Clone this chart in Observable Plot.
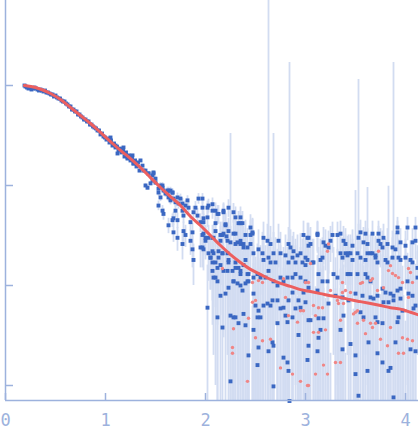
<!DOCTYPE html>
<html><head><meta charset="utf-8">
<script src="https://cdn.jsdelivr.net/npm/d3@7"></script>
<script src="https://cdn.jsdelivr.net/npm/@observablehq/plot@0.6"></script>
<style>body{margin:0;background:#fff}</style>
</head><body><div id="chart"></div>
<script>
const xTicks = [0, 1, 2, 3, 4];
const yTicks = [1, 0.1, 0.01, 0.001];

// fitted model curve [q, I]
const fitCurve = [[0.19,1.00],[0.30,0.955],[0.45,0.832],[0.55,0.724],[0.65,0.603],[0.75,0.501],[0.85,0.417],[0.95,0.339],[1.05,0.275],[1.15,0.224],[1.25,0.186],[1.35,0.151],[1.45,0.120],[1.55,0.0955],[1.65,0.0776],[1.75,0.0631],[1.85,0.0490],[1.95,0.0398],[2.05,0.0316],[2.15,0.0251],[2.25,0.0204],[2.35,0.0170],[2.45,0.0145],[2.55,0.0129],[2.65,0.0115],[2.75,0.0105],[2.85,0.0098],[2.95,0.0091],[3.05,0.0087],[3.15,0.0083],[3.25,0.0079],[3.35,0.0076],[3.45,0.0072],[3.55,0.0069],[3.65,0.0066],[3.75,0.0063],[3.85,0.0060],[3.95,0.0058],[4.05,0.0054],[4.15,0.0050]];

// experimental points [q, I]
const lowQ = [[0.19,1.00],[0.20,0.977],[0.215,0.955],[0.23,0.933],[0.245,0.955],[0.26,0.912],[0.275,0.933],[0.29,0.955],[0.305,0.933],[0.32,0.912],[0.335,0.891],[0.35,0.912],[0.365,0.891],[0.38,0.871],[0.395,0.891],[0.41,0.851],[0.425,0.851],[0.44,0.832],[0.455,0.813],[0.47,0.813],[0.485,0.776],[0.50,0.794],[0.515,0.759],[0.53,0.741],[0.545,0.741],[0.56,0.708],[0.575,0.692],[0.59,0.692],[0.605,0.661],[0.62,0.646],[0.635,0.617],[0.65,0.617],[0.665,0.575],[0.68,0.575],[0.695,0.550],[0.71,0.550],[0.725,0.513],[0.74,0.513],[0.755,0.490],[0.77,0.479],[0.785,0.457],[0.80,0.457],[0.815,0.437],[0.83,0.437],[0.845,0.407],[0.86,0.407],[0.875,0.389],[0.89,0.380],[0.905,0.372],[0.92,0.355],[0.935,0.355],[0.95,0.324],[0.965,0.331],[0.98,0.309],[0.995,0.302],[1.01,0.288],[1.025,0.295],[1.04,0.269],[1.055,0.282],[1.07,0.251],[1.085,0.263],[1.10,0.240],[1.115,0.245],[1.13,0.224],[1.145,0.234],[1.16,0.214],[1.175,0.224],[1.19,0.195],[1.205,0.214],[1.22,0.186],[1.235,0.200],[1.25,0.178],[1.265,0.191],[1.28,0.166],[1.295,0.178],[1.31,0.155],[1.325,0.170],[1.34,0.141]];

const midQ = [[1.05,0.302],[1.10,0.251],[1.12,0.209],[1.18,0.240],[1.22,0.191],[1.27,0.200],[1.28,0.166],[1.35,0.178],[1.38,0.141],[1.43,0.132],[1.47,0.112],[1.48,0.132],[1.50,0.107],[1.53,0.093],[1.55,0.076],[1.57,0.100],[1.62,0.083],[1.63,0.089],[1.65,0.071],[1.67,0.085],
[1.37,0.158],[1.40,0.141],[1.43,0.132],[1.47,0.126],[1.48,0.135],[1.50,0.117],[1.40,0.100],[1.42,0.095],[1.45,0.105],[1.53,0.085],[1.55,0.100],[1.57,0.095],[1.58,0.089],[1.60,0.083],[1.62,0.089],[1.65,0.089],[1.67,0.085],[1.63,0.076],[1.68,0.074],[1.70,0.068],[1.72,0.076],[1.75,0.074],[1.73,0.066],[1.77,0.066],[1.80,0.063],[1.82,0.071],[1.83,0.060],[1.53,0.063],[1.57,0.056],[1.58,0.052],[1.63,0.040],[1.67,0.045],[1.68,0.047],[1.70,0.056],[1.72,0.045],[1.77,0.056],[1.78,0.050],[1.68,0.034],[1.72,0.030],[1.77,0.026],[1.78,0.035],[1.80,0.032],[1.85,0.043],[1.87,0.034],[1.85,0.028],[1.87,0.023],[1.88,0.018],[1.88,0.054],[1.90,0.060],[1.92,0.050],[1.93,0.074],[1.97,0.060],[1.95,0.043],[1.98,0.047],[1.98,0.033],[1.97,0.024],[2.00,0.028],[2.02,0.048],[2.03,0.063],[2.07,0.056],[2.07,0.022],[2.10,0.035],[2.12,0.052],[2.15,0.028],[2.17,0.032],[2.18,0.054],[2.20,0.040],[2.17,0.021],[2.22,0.028],[2.23,0.035],[2.30,0.048],[2.35,0.048],[2.33,0.042],[2.30,0.033],[2.35,0.028],[2.40,0.032],[2.38,0.024],[2.05,0.019],[2.07,0.017],[2.12,0.015],[2.10,0.012],[2.15,0.016],[2.23,0.017],[2.30,0.015],[2.35,0.013],[2.28,0.011],[2.40,0.018],[2.43,0.013],
[1.97,0.074],[2.02,0.060],[2.07,0.065],[2.10,0.056],[2.13,0.052],[2.18,0.056],[2.23,0.060],[2.28,0.054],[2.37,0.042],[2.45,0.038],[2.47,0.033]];

const highQ = [[1.98,0.043],[2.10,0.042],[2.20,0.041],[2.35,0.042],[2.47,0.034],[2.45,0.032],[1.97,0.032],[2.00,0.030],[2.03,0.030],[2.07,0.030],[2.08,0.030],[2.15,0.032],[2.18,0.033],[2.21,0.031],[2.28,0.033],[2.32,0.027],[2.58,0.030],[2.62,0.028],[2.65,0.026],[2.73,0.028],[2.83,0.026],[2.85,0.024],[2.88,0.022],[2.98,0.032],[3.02,0.030],[3.03,0.025],[1.95,0.024],[1.98,0.023],[2.03,0.021],[2.08,0.021],[2.13,0.022],[2.17,0.021],[2.22,0.021],[2.25,0.027],[2.30,0.026],[2.35,0.026],[2.38,0.026],[2.42,0.024],[2.45,0.026],[2.48,0.021],[2.53,0.023],[2.57,0.021],[2.58,0.018],[2.63,0.019],[2.65,0.017],[2.68,0.021],[2.70,0.017],[2.75,0.021],[2.80,0.020],[2.83,0.017],[2.87,0.019],[2.90,0.017],[2.92,0.020],[2.95,0.021],[2.97,0.017],[3.00,0.019],[2.05,0.019],[2.07,0.014],[2.10,0.017],[2.13,0.019],[2.08,0.012],[2.12,0.011],[2.18,0.014],[2.22,0.014],[2.23,0.018],[2.27,0.014],[2.30,0.017],[2.33,0.015],[2.35,0.014],[2.38,0.016],[2.42,0.013],[2.43,0.011],[2.48,0.012],[2.52,0.013],[2.55,0.012],[2.60,0.012],[2.63,0.014],[2.68,0.011],[2.72,0.010],[2.75,0.012],[2.78,0.011],[2.82,0.012],[2.87,0.012],[2.90,0.013],[2.95,0.012],[3.00,0.011],[3.03,0.0095],[2.15,0.0079],[2.20,0.0083],[2.23,0.0095],[2.28,0.011],[2.32,0.0105],[2.35,0.010],[2.37,0.0089],[2.40,0.0105],[2.42,0.011],[2.48,0.0083],[2.50,0.0063],[2.53,0.0056],[2.58,0.0063],[2.62,0.0066],[2.65,0.0063],[2.67,0.0071],[2.72,0.0071],[2.75,0.0059],[2.78,0.0060],[2.80,0.0050],[2.83,0.0071],[2.87,0.0085],[2.90,0.0059],[2.93,0.0071],[2.95,0.0060],[2.98,0.0085],[3.03,0.0045],[2.02,0.0060],[2.12,0.0048],[2.17,0.0038],[2.25,0.0050],[2.28,0.0048],[2.30,0.0048],[2.33,0.0042],[2.38,0.0052],[2.40,0.0040],[2.48,0.0036],[2.52,0.0048],[2.55,0.0048],[2.72,0.0042],[2.82,0.0043],[2.87,0.0048],[2.93,0.0032],[2.43,0.0020],[2.53,0.0024],[2.67,0.0027],[2.68,0.0025],[2.78,0.0019],[2.82,0.0017],[2.83,0.0014],[3.02,0.0018],[3.03,0.0025],[2.52,0.0016],
[4.02,0.038],[3.92,0.034],[3.32,0.032],[3.27,0.032],[3.12,0.032],[3.18,0.027],[3.25,0.028],[3.20,0.025],[3.23,0.024],[3.38,0.028],[3.40,0.026],[3.47,0.025],[3.53,0.030],[3.60,0.033],[3.67,0.033],[3.73,0.028],[3.78,0.030],[3.58,0.027],[3.62,0.026],[3.65,0.021],[3.67,0.021],[3.70,0.020],[3.75,0.026],[3.77,0.024],[3.82,0.026],[3.87,0.024],[3.90,0.023],[3.95,0.027],[4.00,0.025],[4.07,0.027],[4.10,0.028],[3.03,0.030],[3.05,0.026],[3.02,0.018],[3.07,0.017],[3.08,0.017],[3.15,0.018],[3.17,0.019],[3.35,0.021],[3.37,0.019],[3.40,0.021],[3.42,0.020],[3.43,0.021],[3.45,0.021],[3.47,0.018],[3.52,0.021],[3.55,0.019],[3.60,0.018],[3.62,0.021],[3.70,0.019],[3.72,0.017],[3.80,0.018],[3.82,0.017],[3.87,0.019],[3.93,0.019],[3.95,0.018],[4.00,0.019],[4.05,0.018],[4.07,0.017],[4.12,0.015],[3.00,0.016],[3.13,0.013],[3.17,0.011],[3.22,0.011],[3.28,0.013],[3.32,0.012],[3.42,0.013],[3.43,0.013],[3.45,0.013],[3.52,0.013],[3.60,0.013],[3.62,0.012],[3.65,0.011],[3.77,0.0093],[3.80,0.0085],[3.85,0.0083],[3.88,0.0079],[3.92,0.0089],[3.95,0.0093],[4.02,0.011],[4.07,0.0079],[4.12,0.012],[3.00,0.0068],[3.12,0.0089],[3.23,0.0066],[3.30,0.0079],[3.37,0.0076],[3.43,0.0071],[3.50,0.0083],[3.57,0.0079],[3.65,0.0076],[3.68,0.0074],[3.72,0.0079],[3.78,0.0068],[3.83,0.0068],[3.88,0.0071],[3.95,0.0074],[4.03,0.0083],[4.08,0.0059],[4.10,0.0063],[3.05,0.0045],[3.13,0.0047],[3.18,0.0047],[3.15,0.0036],[3.35,0.0036],[3.38,0.0050],[3.55,0.0054],[3.58,0.0048],[3.70,0.0048],[3.72,0.0043],[3.77,0.0042],[3.92,0.0043],[3.93,0.0048],[3.97,0.0056],[3.13,0.0030],[3.12,0.0022],[3.37,0.0023],[3.45,0.0026],[3.63,0.0027],[3.72,0.0021],[3.77,0.0017],[3.85,0.0015],[3.90,0.0027],[4.05,0.0023],[4.10,0.0022],[3.50,0.0013],
[3.12,0.033],[3.35,0.033],[3.55,0.034],[3.73,0.033],[3.92,0.038],[4.10,0.038]];

// points whose error bars are very long [q, I, err]
const spikes = [[2.25,0.0011,0.33],[2.63,0.0022,8],[2.68,0.00098,0.33],[2.84,0.0007,1.7],[3.50,0.0020,0.087],[3.53,0.00079,1.15],[3.62,0.0014,0.094],[3.83,0.0014,0.097],[3.88,0.00076,1.7]];

// negative intensities, shown as |I| [q, |I|]
const negQ = [[2.17,0.0148],[2.47,0.0107],[2.53,0.0112],[2.57,0.0107],[2.50,0.0071],[2.47,0.0068],[2.43,0.0047],[2.28,0.0037],[2.27,0.0024],[2.27,0.0021],[2.50,0.0030],[2.57,0.0028],[2.65,0.0029],[2.75,0.0015],[2.87,0.0013],[2.95,0.0011],[3.03,0.0010],[2.42,0.0011],[2.83,0.0050],[2.92,0.0043],[2.95,0.0056],[2.98,0.0056],[3.00,0.0107],[2.80,0.0076],[2.78,0.0117],
[3.05,0.0166],[3.23,0.026],[3.22,0.022],[3.03,0.0107],[3.08,0.0063],[3.13,0.0060],[3.17,0.0060],[3.10,0.0050],[3.08,0.0034],[3.13,0.0034],[3.20,0.0036],[3.25,0.0089],[3.32,0.0071],[3.33,0.0066],[3.38,0.0066],[3.37,0.0085],[3.40,0.0089],[3.45,0.0085],[3.37,0.0107],[3.35,0.0045],[3.48,0.0052],[3.50,0.0054],[3.52,0.0056],[3.52,0.0042],[3.55,0.0105],[3.57,0.0107],[3.65,0.0112],[3.67,0.0117],[3.60,0.0033],[3.58,0.0045],[3.67,0.0038],[3.70,0.0042],[3.72,0.0089],[3.73,0.022],[3.78,0.0095],[3.83,0.0141],[3.85,0.0158],[3.87,0.0132],[3.90,0.0126],[3.93,0.0120],[3.97,0.0107],[4.00,0.0056],[4.03,0.0148],[4.05,0.0135],[4.07,0.0107],[4.03,0.0076],[3.97,0.0030],[4.02,0.0029],[4.07,0.0028],[3.98,0.0021],[3.93,0.0021],[3.85,0.0038],[3.82,0.0025],[3.75,0.0029],[3.65,0.0042],[3.18,0.0016],[3.22,0.0013],[3.10,0.0013],[3.02,0.0010],[3.30,0.0017],[3.35,0.0017]];

// measurement uncertainty level by q range
const errQ   = [0,     0.5,   1.0,   1.3,   1.5,   1.7,   1.9,   2.0,   2.1,   2.2,   2.3,   2.5,   2.8,   3.1,   3.5,   3.9];
const errVal = [0.006, 0.005, 0.004, 0.005, 0.007, 0.008, 0.009, 0.010, 0.011, 0.012, 0.013, 0.013, 0.012, 0.011, 0.011, 0.010];

const yMin = 7.08e-4, yMax = 7.08;
const axisColor = "#9db2dd", barColor = "#d2dcf1", blueColor = "#3a67c2", redColor = "#f08585", fitColor = "#ec5f5f";

function sigma(q) { let s = errVal[0]; for (let i = 0; i < errQ.length; i++) if (q >= errQ[i]) s = errVal[i]; return s; }
const clampY = v => Math.min(Math.max(v, yMin), yMax);
const blue = [...lowQ, ...midQ, ...highQ].map(([q, I]) => ({q, I, err: sigma(q)}))
  .concat(spikes.map(([q, I, err]) => ({q, I, err})));
const red = negQ.map(([q, v]) => ({q, I: v, err: sigma(q)}));
const fit = fitCurve.map(([q, I]) => ({q, I}));

const chart = Plot.plot({
  width: 418, height: 438,
  marginLeft: 5, marginRight: 0, marginTop: 0, marginBottom: 38,
  style: {fontFamily: "DejaVu Sans Mono", background: "#fff"},
  x: {domain: [0, 4.13]},
  y: {type: "log", domain: [yMin, yMax], axis: null},
  marks: [
    Plot.ruleX(red.filter(d => d.err - d.I > yMin), {x: "q", y1: d => yMin, y2: d => clampY(d.err - d.I), stroke: barColor, strokeWidth: 1.8}),
    Plot.ruleX(blue, {x: "q", y1: d => clampY(d.I - d.err), y2: d => clampY(d.I + d.err), stroke: barColor, strokeWidth: 1.8}),
    Plot.dot(blue, {x: "q", y: "I", symbol: "square", r: 2.2, fill: blueColor}),
    Plot.dot(red, {x: "q", y: "I", r: 1.7, fill: redColor}),
    Plot.line(fit, {x: "q", y: "I", stroke: fitColor, strokeWidth: 3, curve: "monotone-x"}),
    Plot.ruleX([0], {stroke: axisColor, strokeWidth: 1.5}),
    Plot.ruleY([yMin], {stroke: axisColor, strokeWidth: 1.5}),
    Plot.ruleX(xTicks, {stroke: axisColor, strokeWidth: 1.5, insetTop: 393}),
    Plot.ruleY(yTicks, {stroke: axisColor, strokeWidth: 1.5, insetRight: 405}),
    Plot.axisX(xTicks, {tickSize: 0, tickPadding: 13, fontSize: 17, fill: axisColor, label: null, fontFamily: "DejaVu Sans Mono"})
  ]
});
document.getElementById("chart").appendChild(chart);
</script>
</body></html>
